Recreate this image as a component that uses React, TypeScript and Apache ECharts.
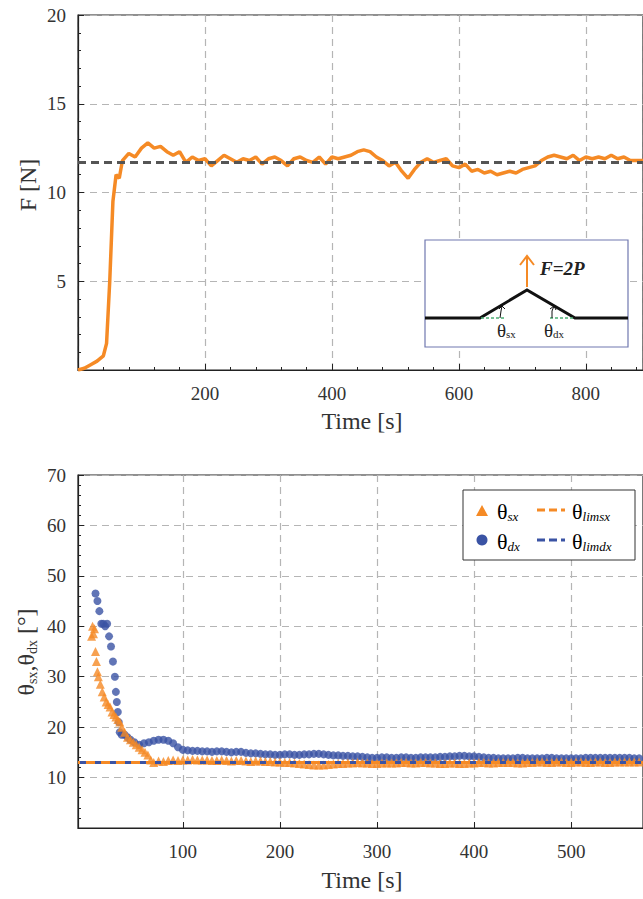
import { useEffect, useRef } from "react";
import * as echarts from "echarts";

// top chart: force vs time, [t, F]
const forceData: number[][] = [
  [0, 0], [10, 0.1], [20, 0.3], [30, 0.5], [40, 0.8], [45, 1.5], [50, 5], [55, 9.5], [60, 11], [65, 10.8],
  [70, 11.8], [80, 12.2], [90, 12], [100, 12.5], [110, 12.8], [120, 12.5], [130, 12.6], [140, 12.3], [150, 12.1],
  [160, 12.3], [170, 11.7], [180, 12], [190, 11.8], [200, 11.9], [210, 11.5], [220, 11.8], [230, 12.1], [240, 11.9],
  [250, 11.7], [260, 11.9], [270, 11.8], [280, 12], [290, 11.6], [300, 11.9], [310, 12], [320, 11.8], [330, 11.5],
  [340, 11.9], [350, 12], [360, 11.8], [370, 11.7], [380, 12], [390, 11.6], [400, 12], [410, 11.9], [420, 12],
  [430, 12.1], [440, 12.3], [450, 12.4], [460, 12.3], [470, 12], [480, 11.8], [490, 11.5], [500, 11.7], [510, 11.2],
  [520, 10.8], [530, 11.3], [540, 11.7], [550, 11.9], [560, 11.7], [570, 11.8], [580, 11.9], [590, 11.5], [600, 11.4],
  [610, 11.6], [620, 11.2], [630, 11.3], [640, 11.1], [650, 11.2], [660, 11.0], [670, 11.1], [680, 11.2], [690, 11.1],
  [700, 11.3], [710, 11.4], [720, 11.5], [730, 11.8], [740, 12], [750, 12.1], [760, 12], [770, 11.9], [780, 12.1],
  [790, 11.8], [800, 12], [810, 11.9], [820, 12], [830, 11.9], [840, 12.1], [850, 11.9], [860, 12], [870, 11.8],
  [880, 11.8], [890, 11.8],
];
const forceMean = 11.7;

// bottom chart: angles vs time, [t, deg]
const thetaSx: number[][] = [
  [6, 38], [7, 40], [8, 38.5], [9, 39.5], [10, 35], [11, 33], [12, 31], [13, 30], [15, 28.5], [17, 27], [19, 26],
  [21, 25], [23, 24.5], [25, 24], [27, 23], [29, 22.5], [31, 22], [33, 21.5], [35, 21], [37, 20], [40, 19], [43, 18],
  [46, 17.5], [49, 17], [52, 16.5], [55, 16], [58, 15.5], [61, 15], [64, 14.5], [67, 13.5], [70, 13], [75, 13.3],
  [80, 13.2], [85, 13.4], [90, 13.5], [95, 13.4], [100, 13.5], [105, 13.5], [110, 13.6], [115, 13.5], [120, 13.5],
  [125, 13.5], [130, 13.4], [135, 13.4], [140, 13.5], [145, 13.4], [150, 13.3], [155, 13.4], [160, 13.4], [165, 13.3],
  [170, 13.2], [175, 13.3], [180, 13.3], [185, 13.2], [190, 13.2], [195, 13.1], [200, 13.1], [205, 13.0], [210, 13.0],
  [215, 12.9], [220, 12.8], [225, 12.7], [230, 12.6], [235, 12.5], [240, 12.5], [245, 12.5], [250, 12.6], [255, 12.7],
  [260, 12.8], [265, 12.8], [270, 12.9], [275, 12.9], [280, 13.0], [285, 12.9], [290, 12.9], [295, 12.8], [300, 12.8],
  [305, 12.9], [310, 12.9], [315, 12.9], [320, 12.9], [325, 13.0], [330, 13.0], [335, 12.9], [340, 12.9], [345, 13.0],
  [350, 13.0], [355, 12.9], [360, 12.9], [365, 12.8], [370, 12.8], [375, 12.9], [380, 12.9], [385, 12.8], [390, 12.8],
  [395, 12.9], [400, 12.9], [405, 13.0], [410, 13.0], [415, 12.9], [420, 12.9], [425, 13.0], [430, 13.0], [435, 13.0],
  [440, 13.0], [445, 12.9], [450, 12.9], [455, 13.0], [460, 13.0], [465, 13.1], [470, 13.1], [475, 13.0], [480, 13.0],
  [485, 13.1], [490, 13.1], [495, 13.0], [500, 13.0], [505, 13.1], [510, 13.1], [515, 13.0], [520, 13.0], [525, 13.1],
  [530, 13.1], [535, 13.0], [540, 13.0], [545, 13.1], [550, 13.1], [555, 13.1], [560, 13.1], [565, 13.1], [570, 13.1],
];
const thetaDx: number[][] = [
  [10, 46.5], [12, 45], [14, 43], [16, 40.5], [18, 40.5], [20, 40], [22, 40.5], [24, 38], [26, 36], [28, 33], [30, 30],
  [31, 27], [32, 25], [33, 23], [34, 21], [35, 19], [37, 18.5], [40, 18.5], [43, 18], [46, 17.5], [50, 17], [55, 16.5],
  [60, 16.8], [65, 17], [70, 17.3], [75, 17.5], [80, 17.5], [85, 17.3], [90, 16.8], [95, 16], [100, 15.5], [105, 15.4],
  [110, 15.3], [115, 15.3], [120, 15.2], [125, 15.2], [130, 15.1], [135, 15.2], [140, 15.2], [145, 15.1], [150, 15.0],
  [155, 15.1], [160, 15.1], [165, 14.9], [170, 14.8], [175, 14.8], [180, 14.7], [185, 14.6], [190, 14.6], [195, 14.5],
  [200, 14.5], [205, 14.6], [210, 14.6], [215, 14.5], [220, 14.5], [225, 14.6], [230, 14.6], [235, 14.7], [240, 14.7],
  [245, 14.6], [250, 14.5], [255, 14.4], [260, 14.4], [265, 14.3], [270, 14.3], [275, 14.2], [280, 14.2], [285, 14.1],
  [290, 14.0], [295, 13.9], [300, 13.9], [305, 14.0], [310, 14.0], [315, 13.9], [320, 13.9], [325, 14.0], [330, 14.0],
  [335, 13.9], [340, 13.9], [345, 14.0], [350, 14.0], [355, 14.0], [360, 14.0], [365, 14.1], [370, 14.1], [375, 14.2],
  [380, 14.2], [385, 14.3], [390, 14.3], [395, 14.2], [400, 14.2], [405, 14.1], [410, 14.0], [415, 13.9], [420, 13.9],
  [425, 13.8], [430, 13.8], [435, 13.8], [440, 13.8], [445, 13.9], [450, 13.9], [455, 13.8], [460, 13.8], [465, 13.8],
  [470, 13.8], [475, 13.9], [480, 13.9], [485, 13.8], [490, 13.8], [495, 13.8], [500, 13.8], [505, 13.8], [510, 13.8],
  [515, 13.9], [520, 13.9], [525, 13.9], [530, 13.9], [535, 13.9], [540, 13.9], [545, 13.9], [550, 13.9], [555, 13.9],
  [560, 13.9], [565, 13.8], [570, 13.8],
];
const thetaLimSx = 13.0;
const thetaLimDx = 13.1;
const bottomTicks = [100, 200, 300, 400, 500];

const ORANGE = "#f58a25";
const BLUE = "#3a53a4";
const FONT = "Liberation Serif";

export default function App() {
  const ref = useRef<HTMLDivElement>(null);

  useEffect(() => {
    if (!ref.current) return;
    const chart = echarts.init(ref.current, undefined, { renderer: "svg" });

    const gridLine = { show: true, lineStyle: { type: [7, 5] as any, color: "#b5b5b5", width: 1.2 } };
    const axisLine = { show: true, onZero: false, lineStyle: { color: "#222", width: 1.2 } };
    const axisLabel = { fontFamily: FONT, fontSize: 19, color: "#333" };
    const axisTick = { inside: true, length: 6, lineStyle: { color: "#222" } };
    const minorTick = { show: true, splitNumber: 5, length: 3, lineStyle: { color: "#222" } };
    const sub = { fontFamily: FONT, fontSize: 13, color: "#222", padding: [10, 0, 0, 0] };
    const subIt = { ...sub, fontStyle: "italic" };
    const th = { fontFamily: FONT, fontSize: 22, color: "#222" };
    const insetRich = {
      t: { fontFamily: FONT, fontSize: 19, fill: "#222" },
      s: { fontFamily: FONT, fontSize: 11, fill: "#222", padding: [8, 0, 0, 0] },
    } as any;

    const option: echarts.EChartsOption = {
      animation: false,
      grid: [
        { left: 78, right: 0, top: 15, height: 355, show: true, borderColor: "#222", borderWidth: 1.2 },
        { left: 78, right: 0, top: 475, height: 353, show: true, borderColor: "#222", borderWidth: 1.2 },
      ],
      xAxis: [
        {
          type: "value", gridIndex: 0, min: 0, max: 890, interval: 200,
          axisLine, axisTick, minorTick, splitLine: gridLine,
          axisLabel: { ...axisLabel, showMinLabel: false, showMaxLabel: false, margin: 14 },
        },
        {
          type: "value", gridIndex: 1, min: -8, max: 574,
          axisLine, splitLine: gridLine,
          axisTick: { ...axisTick, customValues: bottomTicks } as any,
          axisLabel: { ...axisLabel, margin: 14, customValues: bottomTicks } as any,
        },
      ],
      yAxis: [
        {
          type: "value", gridIndex: 0, min: 0, max: 20, interval: 5,
          axisLine, axisTick, minorTick, splitLine: gridLine,
          axisLabel: { ...axisLabel, showMinLabel: false, margin: 12 },
        },
        {
          type: "value", gridIndex: 1, min: 0, max: 70, interval: 10,
          axisLine, axisTick, minorTick, splitLine: gridLine,
          axisLabel: { ...axisLabel, showMinLabel: false, margin: 12 },
        },
      ],
      series: [
        {
          type: "line", xAxisIndex: 0, yAxisIndex: 0, data: forceData, showSymbol: false,
          lineStyle: { color: ORANGE, width: 3.5 },
          markLine: {
            silent: true, symbol: "none", label: { show: false },
            lineStyle: { color: "#555", type: [8, 5] as any, width: 3 },
            data: [{ yAxis: forceMean }],
          },
        },
        {
          type: "scatter", xAxisIndex: 1, yAxisIndex: 1, data: thetaDx,
          symbol: "circle", symbolSize: 8, itemStyle: { color: BLUE },
          markLine: {
            silent: true, symbol: "none", label: { show: false },
            lineStyle: { color: BLUE, type: [9, 6] as any, width: 3 },
            data: [{ yAxis: thetaLimDx }],
          },
        },
        {
          type: "scatter", xAxisIndex: 1, yAxisIndex: 1, data: thetaSx,
          symbol: "triangle", symbolSize: 9, itemStyle: { color: ORANGE },
          markLine: {
            silent: true, symbol: "none", label: { show: false },
            lineStyle: { color: ORANGE, type: [9, 6] as any, width: 3, dashOffset: 7 } as any,
            data: [{ yAxis: thetaLimSx }],
          },
        },
      ],
      graphic: [
        // axis titles
        { type: "text", x: 362, y: 421, style: { text: "Time [s]", font: `24px ${FONT}`, fill: "#333", align: "center", verticalAlign: "middle" } },
        { type: "text", x: 362, y: 880, style: { text: "Time [s]", font: `24px ${FONT}`, fill: "#333", align: "center", verticalAlign: "middle" } },
        { type: "text", x: 28, y: 185, rotation: Math.PI / 2, style: { text: "F [N]", font: `24px ${FONT}`, fill: "#333", align: "center", verticalAlign: "middle" } },
        {
          type: "text", x: 26, y: 652, rotation: Math.PI / 2,
          style: {
            text: "{t|θ}{s|sx}{t|,θ}{s|dx}{t| [°]}", align: "center", verticalAlign: "middle",
            rich: {
              t: { fontFamily: FONT, fontSize: 24, fill: "#333" } as any,
              s: { fontFamily: FONT, fontSize: 14, fill: "#333", padding: [12, 0, 0, 0] } as any,
            },
          },
        },
        // inset
        { type: "rect", shape: { x: 425, y: 240, width: 203, height: 107 }, style: { fill: "#fff", stroke: "#7078b0", lineWidth: 1.2 }, z: 10 },
        { type: "polyline", shape: { points: [[425, 318], [480, 318], [527, 290], [575, 318], [628, 318]] }, style: { stroke: "#111", lineWidth: 3, fill: "none" }, z: 11 },
        { type: "line", shape: { x1: 481, y1: 318, x2: 506, y2: 318 }, style: { stroke: "#4caf74", lineWidth: 1.5, lineDash: [3, 2] }, z: 11 },
        { type: "line", shape: { x1: 550, y1: 318, x2: 574, y2: 318 }, style: { stroke: "#4caf74", lineWidth: 1.5, lineDash: [3, 2] }, z: 11 },
        { type: "line", shape: { x1: 527, y1: 287, x2: 527, y2: 256 }, style: { stroke: ORANGE, lineWidth: 2 }, z: 11 },
        { type: "polyline", shape: { points: [[520, 265], [527, 256], [534, 265]] }, style: { stroke: ORANGE, lineWidth: 2, fill: "none" }, z: 11 },
        { type: "polyline", shape: { points: [[500, 318], [501, 311], [502, 306]] }, style: { stroke: "#111", lineWidth: 1, fill: "none" }, z: 11 },
        { type: "polyline", shape: { points: [[499, 309], [502, 306], [505, 309]] }, style: { stroke: "#111", lineWidth: 1, fill: "none" }, z: 11 },
        { type: "polyline", shape: { points: [[552, 318], [552, 311], [554, 306]] }, style: { stroke: "#111", lineWidth: 1, fill: "none" }, z: 11 },
        { type: "polyline", shape: { points: [[550, 309], [554, 306], [556, 310]] }, style: { stroke: "#111", lineWidth: 1, fill: "none" }, z: 11 },
        { type: "text", x: 540, y: 268, z: 11, style: { text: "F=2P", font: `italic bold 19px ${FONT}`, fill: "#222", verticalAlign: "middle" } },
        { type: "text", x: 497, y: 330, z: 11, style: { text: "{t|θ}{s|sx}", verticalAlign: "middle", rich: insetRich } },
        { type: "text", x: 544, y: 330, z: 11, style: { text: "{t|θ}{s|dx}", verticalAlign: "middle", rich: insetRich } },
        // legend
        { type: "rect", shape: { x: 463, y: 490, width: 172, height: 70 }, style: { fill: "#fff", stroke: "#333", lineWidth: 1 }, z: 10 },
        { type: "polygon", shape: { points: [[482, 505], [476, 516], [488, 516]] }, style: { fill: ORANGE }, z: 11 },
        { type: "circle", shape: { cx: 482, cy: 540, r: 5.5 }, style: { fill: BLUE }, z: 11 },
        { type: "line", shape: { x1: 537, y1: 510, x2: 565, y2: 510 }, style: { stroke: ORANGE, lineWidth: 3, lineDash: [8, 4] }, z: 11 },
        { type: "line", shape: { x1: 537, y1: 540, x2: 565, y2: 540 }, style: { stroke: BLUE, lineWidth: 3, lineDash: [8, 4] }, z: 11 },
        { type: "text", x: 497, y: 511, z: 11, style: { text: "{t|θ}{s|sx}", verticalAlign: "middle", rich: { t: th, s: subIt } as any } },
        { type: "text", x: 497, y: 541, z: 11, style: { text: "{t|θ}{s|dx}", verticalAlign: "middle", rich: { t: th, s: subIt } as any } },
        { type: "text", x: 572, y: 511, z: 11, style: { text: "{t|θ}{s|limsx}", verticalAlign: "middle", rich: { t: th, s: subIt } as any } },
        { type: "text", x: 572, y: 541, z: 11, style: { text: "{t|θ}{s|limdx}", verticalAlign: "middle", rich: { t: th, s: subIt } as any } },
      ],
    };
    chart.setOption(option);
    return () => chart.dispose();
  }, []);

  return <div ref={ref} style={{ position: "absolute", left: 0, top: 0, width: 643, height: 899 }} />;
}
